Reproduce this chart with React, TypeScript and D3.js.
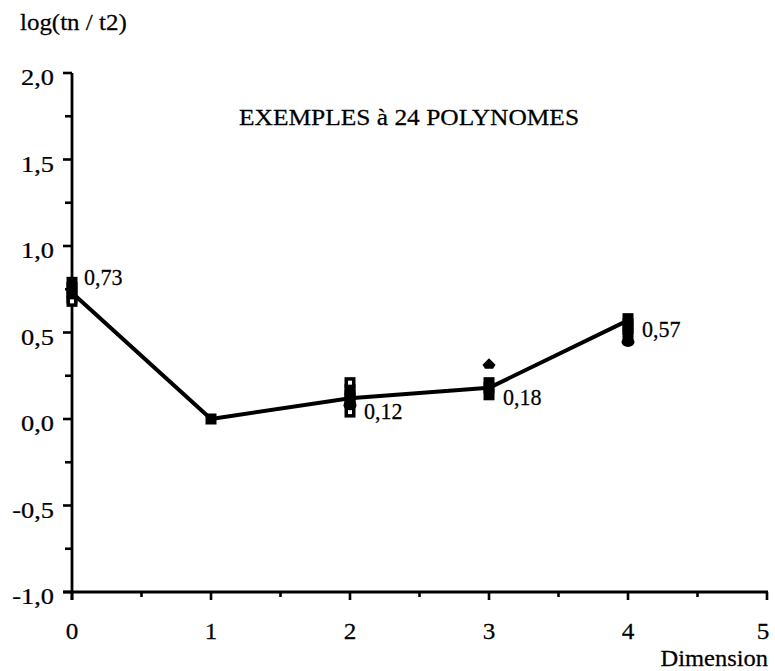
import React from "react";
import * as d3 from "d3";

// Mean log ratio per dimension
const dimensions = [0, 1, 2, 3, 4];
const meanValues = [0.73, 0.0, 0.12, 0.18, 0.57];
const meanLabels = ["0,73", "", "0,12", "0,18", "0,57"];

// Individual examples, grouped by marker shape
const filledSquares: [number, number][] = [
  [0, 0.79], [0, 0.76], [0, 0.73], [0, 0.7],
  [1, 0.0],
  [2, 0.17], [2, 0.14], [2, 0.12], [2, 0.1],
  [3, 0.21], [3, 0.18], [3, 0.14],
  [4, 0.58], [4, 0.55], [4, 0.52], [4, 0.49],
];
const hollowSquares: [number, number][] = [
  [0, 0.68], [2, 0.21], [2, 0.04],
];
const circles: [number, number][] = [
  [2, 0.08], [4, 0.445],
];
const diamonds: [number, number][] = [
  [3, 0.32],
];

const yTicks = [2, 1.5, 1, 0.5, 0, -0.5, -1];
const yTickLabels = ["2,0", "1,5", "1,0", "0,5", "0,0", "-0,5", "-1,0"];
const yMinorTicks = [1.75, 1.25, 0.75, 0.25, -0.25, -0.75];
const xTicks = [0, 1, 2, 3, 4, 5];
const xMinorTicks = [0.5, 1.5, 2.5, 3.5, 4.5];

const title = "EXEMPLES à 24 POLYNOMES";
const yTitle = "log(tn / t2)";
const xTitle = "Dimension";

const FONT = "'Liberation Serif', 'Times New Roman', serif";

function Label(props: {
  x: number; y: number; sx?: number; anchor?: "start" | "middle" | "end";
  size?: number; children: string;
}) {
  const { x, y, sx = 1, anchor = "start", size = 24, children } = props;
  return (
    <text
      transform={`translate(${x},${y}) scale(${sx},1)`}
      textAnchor={anchor}
      fontFamily={FONT}
      fontSize={size}
      fill="#000"
      stroke="#000"
      strokeWidth={0.25}
    >
      {children}
    </text>
  );
}

export default function App() {
  const width = 775;
  const height = 671;

  const x = d3.scaleLinear().domain([0, 5]).range([72, 767]);
  const y = d3.scaleLinear().domain([-1, 2]).range([592, 73]);

  const line = d3
    .line<number>()
    .x((_, i) => x(dimensions[i]))
    .y((d) => y(d));

  const sq = 11;
  const labelDy = [-8, 0, 21, 17, 17];

  return (
    <svg
      width={width}
      height={height}
      style={{ position: "absolute", left: 0, top: 0, background: "#fff" }}
    >
      <rect width={width} height={height} fill="#fff" />

      {/* y axis */}
      <line x1={x(0)} x2={x(0)} y1={y(2)} y2={y(-1) + 8} stroke="#000" strokeWidth={2.8} />
      {yTicks.map((t, i) => (
        <g key={"yt" + t}>
          <line x1={x(0) - 9} x2={x(0)} y1={y(t)} y2={y(t)} stroke="#000" strokeWidth={2.6} />
          <Label x={54} y={y(t) + 12} sx={1.1} anchor="end">{yTickLabels[i]}</Label>
        </g>
      ))}
      {yMinorTicks.map((t) => (
        <line key={"ym" + t} x1={x(0) - 7} x2={x(0)} y1={y(t)} y2={y(t)} stroke="#000" strokeWidth={2.6} />
      ))}

      {/* x axis */}
      <line x1={x(0) - 9} x2={x(5) + 1} y1={y(-1)} y2={y(-1)} stroke="#000" strokeWidth={2.8} />
      {xTicks.map((t) => (
        <g key={"xt" + t}>
          <line x1={x(t)} x2={x(t)} y1={y(-1)} y2={y(-1) + 8} stroke="#000" strokeWidth={2.6} />
          <Label x={x(t) - (t === 5 ? 4 : 0)} y={639} sx={1.05} anchor="middle">{String(t)}</Label>
        </g>
      ))}
      {xMinorTicks.map((t) => (
        <line key={"xm" + t} x1={x(t)} x2={x(t)} y1={y(-1)} y2={y(-1) + 5} stroke="#000" strokeWidth={2.6} />
      ))}

      {/* titles */}
      <Label x={20} y={30} sx={1.04}>{yTitle}</Label>
      <Label x={239} y={125} sx={1.06}>{title}</Label>
      <Label x={768} y={666} sx={1.02} anchor="end">{xTitle}</Label>

      {/* mean line */}
      <path d={line(meanValues) || ""} fill="none" stroke="#000" strokeWidth={4} strokeLinejoin="round" />

      {/* example markers */}
      {filledSquares.map(([d, v], i) => (
        <rect key={"fs" + i} x={x(d) - sq / 2} y={y(v) - sq / 2} width={sq} height={sq} fill="#000" />
      ))}
      {hollowSquares.map(([d, v], i) => (
        <rect key={"hs" + i} x={x(d) - sq / 2 + 1.75} y={y(v) - sq / 2 + 1.75} width={sq - 3.5} height={sq - 3.5}
          fill="#fff" stroke="#000" strokeWidth={3.5} />
      ))}
      {circles.map(([d, v], i) => (
        <ellipse key={"c" + i} cx={x(d)} cy={y(v)} rx={6.5} ry={5} fill="#000" />
      ))}
      {diamonds.map(([d, v], i) => (
        <path key={"dm" + i}
          d={`M${x(d)},${y(v) - 5.5} L${x(d) + 6.5},${y(v) + 1} L${x(d) + 4},${y(v) + 5} L${x(d) - 4},${y(v) + 5} L${x(d) - 6.5},${y(v) + 1} Z`}
          fill="#000" />
      ))}

      {/* mean value labels */}
      {meanLabels.map((s, i) =>
        s ? (
          <Label key={"ml" + i} x={x(dimensions[i]) + 12 + (i === 0 ? 0 : 2)} y={y(meanValues[i]) + labelDy[i]} sx={0.92}>
            {s}
          </Label>
        ) : null
      )}
    </svg>
  );
}
